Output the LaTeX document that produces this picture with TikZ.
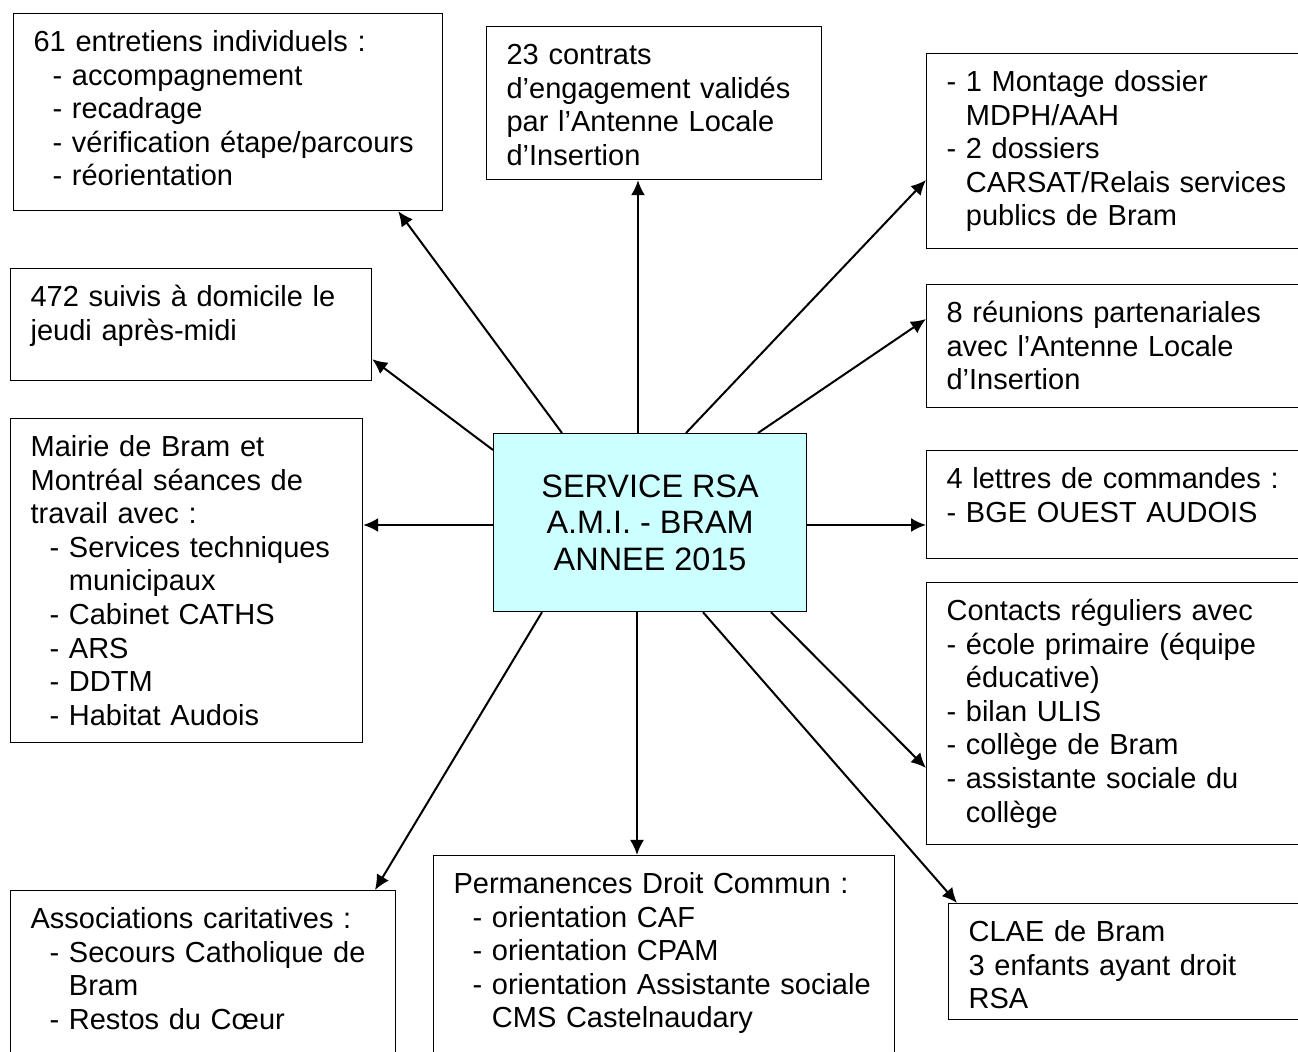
\documentclass[tikz,border=0pt]{standalone}
\usepackage{fontspec}
\setmainfont{Liberation Sans}
\usepackage{tikz}
\usetikzlibrary{arrows.meta}
\definecolor{rsacyan}{HTML}{CCFFFF}
\newcommand{\ind}{\hspace*{9.5pt}}
\newcommand{\tiret}{-\ }
\newcommand{\suite}{\hphantom{-\ }}

\begin{document}
\begin{tikzpicture}[x=0.5pt,y=-0.5pt,line width=1pt,
  >={Latex[length=7.5pt,width=7pt]},
  box/.style={draw,line width=0.6pt,anchor=north west,align=left,
    inner xsep=10pt,inner ysep=0pt,text height=19pt,
    font=\fontsize{14.5pt}{16.8pt}\selectfont},
  boite/.style 2 args={box,text width=#1,text depth=#2},
  centre/.style={draw,line width=0.6pt,fill=rsacyan,anchor=north west,align=center,
    inner sep=0pt,minimum width=156.5pt,minimum height=89pt,
    font=\fontsize{16.2pt}{18.3pt}\selectfont}]
  \path[use as bounding box,clip] (0,0) rectangle (1298,1052);

  \node[centre]	(rsa) at (493,433) {SERVICE RSA\\A.M.I. - BRAM\\ANNEE 2015};

  % colonne gauche
  \node[boite={194.5pt}{79.5pt}]	(entretiens) at (13,13)
    {61 entretiens individuels :\\
     \ind\tiret accompagnement\\
     \ind\tiret recadrage\\
     \ind\tiret vérification étape/parcours\\
     \ind\tiret réorientation};
  \node[boite={160.5pt}{37pt}]	(suivis) at (10,268)
    {472 suivis à domicile le\\jeudi après-midi};
  \node[boite={156pt}{143pt}]	(mairie) at (10,418)
    {Mairie de Bram et\\Montréal séances de\\travail avec :\\
     \ind\tiret Services techniques\\
     \ind\suite municipaux\\
     \ind\tiret Cabinet CATHS\\
     \ind\tiret ARS\\
     \ind\tiret DDTM\\
     \ind\tiret Habitat Audois};
  \node[boite={172.5pt}{81pt}]	(assoc) at (10,890)
    {Associations caritatives :\\
     \ind\tiret Secours Catholique de\\
     \ind\suite Bram\\
     \ind\tiret Restos du Cœur};

  % milieu
  \node[boite={147.5pt}{57.5pt}]	(contrats) at (486,26)
    {23 contrats\\d’engagement validés\\par l’Antenne Locale\\d’Insertion};
  \node[boite={210.5pt}{81pt}]	(perm) at (433,855)
    {Permanences Droit Commun :\\
     \ind\tiret orientation CAF\\
     \ind\tiret orientation CPAM\\
     \ind\tiret orientation Assistante sociale\\
     \ind\suite CMS Castelnaudary};

  % colonne droite
  \node[boite={180pt}{78.5pt}]	(dossiers) at (926,53)
    {\tiret 1 Montage dossier\\
     \suite MDPH/AAH\\
     \tiret 2 dossiers\\
     \suite CARSAT/Relais services\\
     \suite publics de Bram};
  \node[boite={180pt}{42.5pt}]	(reunions) at (926,284)
    {8 réunions partenariales\\avec l’Antenne Locale\\d’Insertion};
  \node[boite={180pt}{35pt}]	(lettres) at (926,450)
    {4 lettres de commandes :\\\tiret BGE OUEST AUDOIS};
  \node[boite={180pt}{112pt}]	(contacts) at (926,582)
    {Contacts réguliers avec\\
     \tiret école primaire (équipe\\
     \suite éducative)\\
     \tiret bilan ULIS\\
     \tiret collège de Bram\\
     \tiret assistante sociale du\\
     \suite collège};
  \node[boite={170pt}{39pt}]	(clae) at (948,903)
    {CLAE de Bram\\3 enfants ayant droit\\RSA};

  \path[->]
    ([shift={(69,0)}]rsa.north west)	edge ([shift={(-45,0)}]entretiens.south east)
    ([shift={(145,0)}]rsa.north west)	edge ([shift={(152,0)}]contrats.south west)
    ([shift={(193,0)}]rsa.north west)	edge ([shift={(0,127)}]dossiers.north west)
    ([shift={(265,0)}]rsa.north west)	edge ([shift={(0,35)}]reunions.north west)
    ([shift={(0,17)}]rsa.north west)	edge ([shift={(0,-22)}]suivis.south east)
    ([shift={(0,92)}]rsa.north west)	edge ([shift={(0,107)}]mairie.north east)
    ([shift={(0,92)}]rsa.north east)	edge ([shift={(0,75)}]lettres.north west)
    ([shift={(49,0)}]rsa.south west)	edge ([shift={(365,0)}]assoc.north west)
    ([shift={(144,0)}]rsa.south west)	edge ([shift={(204,0)}]perm.north west)
    ([shift={(210,0)}]rsa.south west)	edge ([shift={(9,0)}]clae.north west)
    ([shift={(278,0)}]rsa.south west)	edge ([shift={(0,186)}]contacts.north west)
  ;
\end{tikzpicture}
\end{document}
